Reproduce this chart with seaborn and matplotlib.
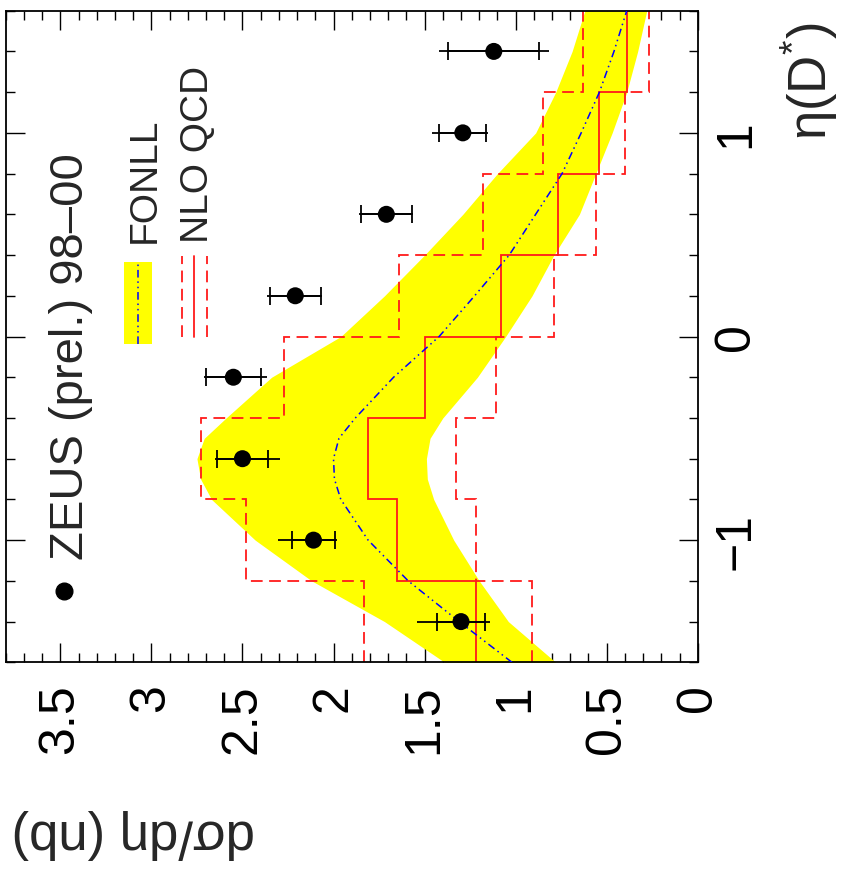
import numpy as np
import matplotlib
matplotlib.use("Agg")
import matplotlib.pyplot as plt
import matplotlib.patches as mpatches
from matplotlib.ticker import MultipleLocator, FixedLocator, FixedFormatter
import seaborn as sns

# ---------------- data ----------------
# ZEUS data points (eta bin centres)
eta_pts = [-1.4, -1.0, -0.6, -0.2, 0.2, 0.6, 1.0, 1.4]
zeus_val = [1.30, 2.11, 2.50, 2.55, 2.21, 1.71, 1.29, 1.12]
zeus_stat = [0.13, 0.12, 0.14, 0.15, 0.14, 0.14, 0.13, 0.25]
zeus_tot_lo = [0.161, 0.128, 0.207, 0.183, 0.148, 0.147, 0.137, 0.302]
zeus_tot_hi = [0.242, 0.196, 0.150, 0.163, 0.156, 0.152, 0.170, 0.302]

# NLO QCD histograms (bin edges in eta)
nlo_edges = [-1.6, -1.2, -0.8, -0.4, 0.0, 0.4, 0.8, 1.2, 1.6]
nlo_central = [1.22, 1.65, 1.81, 1.50, 1.08, 0.77, 0.54, 0.39]
nlo_upper = [1.83, 2.48, 2.73, 2.27, 1.64, 1.18, 0.85, 0.63]
nlo_lower = [0.91, 1.22, 1.33, 1.11, 0.79, 0.56, 0.40, 0.27]

# FONLL band
fonll_eta = [-1.6, -1.4, -1.2, -1.0, -0.8, -0.7, -0.6, -0.5, -0.4, -0.2, 0.0,
             0.2, 0.4, 0.6, 0.8, 1.0, 1.2, 1.4, 1.6]
fonll_upper = [1.39, 1.72, 2.12, 2.43, 2.67, 2.73, 2.75, 2.71, 2.59, 2.34, 1.96,
               1.72, 1.50, 1.29, 1.10, 0.89, 0.78, 0.69, 0.62]
fonll_lower = [0.78, 1.04, 1.20, 1.34, 1.45, 1.485, 1.49, 1.47, 1.40, 1.21, 1.055,
               0.91, 0.79, 0.65, 0.56, 0.47, 0.39, 0.33, 0.28]
fonll_central = [1.02, 1.31, 1.59, 1.81, 1.96, 1.995, 2.00, 1.97, 1.88, 1.67, 1.42,
                 1.225, 1.035, 0.89, 0.745, 0.64, 0.54, 0.46, 0.39]

# ticks
val_ticks = [0, 0.5, 1, 1.5, 2, 2.5, 3, 3.5]
val_tick_labels = ["0", "0.5", "1", "1.5", "2", "2.5", "3", "3.5"]
eta_ticks = [-1, 0, 1]
eta_tick_labels = ["\u22121", "0", "1"]

# ---------------- style ----------------
sns.set_theme(style="ticks")
plt.rcParams["font.family"] = ["Liberation Sans", "DejaVu Sans"]
plt.rcParams["mathtext.fontset"] = "custom"
plt.rcParams["mathtext.rm"] = "Liberation Sans"
plt.rcParams["mathtext.it"] = "Liberation Sans"
plt.rcParams["axes.linewidth"] = 1.3

fig = plt.figure(figsize=(8.45, 8.78), dpi=100)
ax = fig.add_axes([0.00675, 0.2445, 0.819, 0.7422])
ax.set_facecolor("white")

# FONLL band
ax.fill_betweenx(fonll_eta, fonll_lower, fonll_upper, color="#ffff00", lw=0, zorder=1)

# NLO histograms (rotated: values along x)
red = "#ff1a1a"
ax.stairs(nlo_upper, nlo_edges, orientation="horizontal", baseline=None,
          color=red, lw=1.3, linestyle=(0, (6.5, 3.6)), zorder=2)
ax.stairs(nlo_lower, nlo_edges, orientation="horizontal", baseline=None,
          color=red, lw=1.3, linestyle=(0, (6.5, 3.6)), zorder=2)
ax.stairs(nlo_central, nlo_edges, orientation="horizontal", baseline=None,
          color=red, lw=1.3, zorder=2)

# FONLL central curve
blue_dash = (0, (5, 2.5, 1, 2.5, 1, 2.5))
sns.lineplot(x=fonll_central, y=fonll_eta, orient="y", sort=False, ax=ax,
             color="blue", lw=1.1, zorder=3)
ax.lines[-1].set_linestyle(blue_dash)

# ZEUS points with errors
zv = np.array(zeus_val)
ax.hlines(eta_pts, zv - np.array(zeus_tot_lo), zv + np.array(zeus_tot_hi),
          color="black", lw=1.3, zorder=4)
ax.errorbar(zeus_val, eta_pts, xerr=zeus_stat, fmt="none", ecolor="black",
            elinewidth=1.3, capsize=6.5, capthick=1.3, zorder=4)
sns.scatterplot(x=zeus_val, y=eta_pts, ax=ax, s=150, color="black",
                edgecolor="none", zorder=5)

# axes
ax.set_xlim(3.8, 0)
ax.set_ylim(-1.6, 1.6)
ax.xaxis.set_major_locator(FixedLocator(val_ticks))
ax.xaxis.set_major_formatter(FixedFormatter(val_tick_labels))
ax.xaxis.set_minor_locator(MultipleLocator(0.1))
ax.yaxis.set_major_locator(FixedLocator(eta_ticks))
ax.yaxis.set_major_formatter(FixedFormatter(eta_tick_labels))
ax.yaxis.set_minor_locator(MultipleLocator(0.2))
ax.tick_params(axis="x", which="both", direction="in", top=True, bottom=True,
               labelsize=36, pad=15, labelrotation=90, colors="black")
ax.tick_params(axis="y", which="both", direction="in", left=True, right=True,
               labelleft=False, labelright=True, labelsize=36, pad=11, colors="black")
ax.tick_params(which="major", length=13.5, width=1.0)
ax.tick_params(which="minor", length=6.7, width=1.0)
for lab in ax.get_yticklabels():
    lab.set_rotation(90)
    lab.set_va("center")
    lab.set_ha("left")
for sp in ax.spines.values():
    sp.set_visible(True)
    sp.set_color("black")
ax.set_xlabel("")
ax.set_ylabel("")

# legend (drawn manually, rotated)
T = ax.transAxes
ax.plot([0.0847], [0.1099], "o", ms=12, color="black", transform=T, zorder=6)
ax.text(0.1121, 0.1585, "ZEUS (prel.) 98\u201300", transform=T, rotation=90,
        rotation_mode="anchor", ha="left", va="baseline", fontsize=34)
ax.add_patch(mpatches.Rectangle((0.1714, 0.4885), 0.0396, 0.1254, transform=T,
                                color="#ffff00", lw=0, zorder=6))
ax.plot([0.1916, 0.1916], [0.4885, 0.6139], transform=T, color="blue", lw=1.1,
        linestyle=blue_dash, zorder=7)
ax.text(0.2158, 0.6446, "FONLL", transform=T, rotation=90,
        rotation_mode="anchor", ha="left", va="baseline", fontsize=28)
for xx in (0.2543, 0.2913):
    ax.plot([xx, xx], [0.4988, 0.6240], transform=T, color=red, lw=1.3,
            linestyle=(0, (6.5, 3.6)), zorder=7)
ax.plot([0.2725, 0.2725], [0.4988, 0.6240], transform=T, color=red, lw=1.3, zorder=7)
ax.text(0.2923, 0.6446, "NLO QCD", transform=T, rotation=90,
        rotation_mode="anchor", ha="left", va="baseline", fontsize=28)

# axis titles (rotated like the reference)
fig.text(0.978, 1 - 140 / 878, "\u03b7(D$^{*}$)", rotation=90, rotation_mode="anchor",
         ha="left", va="baseline", fontsize=38)
fig.text(133 / 845, 1 - 834 / 878, "d\u03c3/d\u03b7 (nb)", rotation=180,
         ha="center", va="center", fontsize=38)

fig.savefig("out.png", dpi=100, facecolor="white")
